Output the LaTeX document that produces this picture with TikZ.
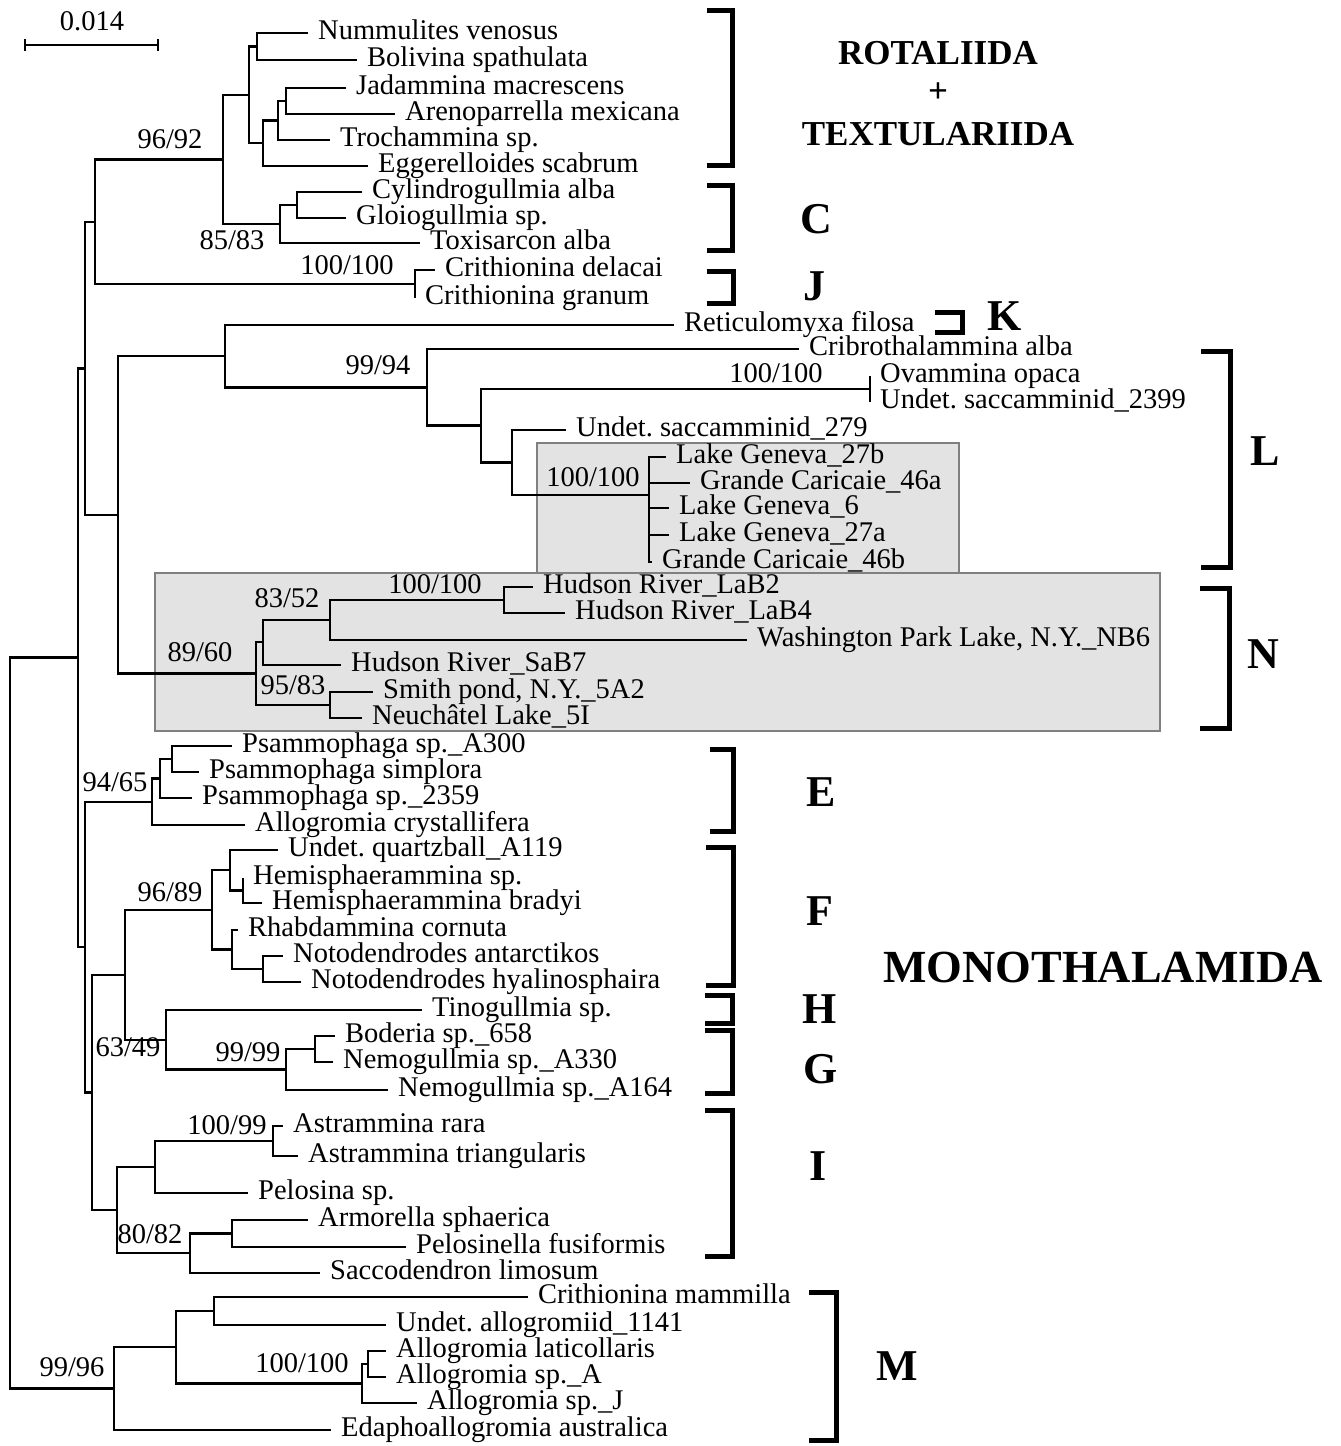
\documentclass[tikz,border=0pt]{standalone}
\usepackage{fontspec}
\setmainfont{Liberation Serif}
\newcommand\leafnode[4]{\coordinate (#1) at (#2,#3); \node[leaf] (#1t) at (#1) {#4};}
\begin{document}
\begin{tikzpicture}[x=1pt,y=-1pt,
  br/.style={line width=2.8pt, line join=miter},
  leaf/.style={anchor=west, inner ysep=0pt, inner xsep=10pt, font=\fontsize{28.5}{30}\selectfont, text height=16pt, text depth=4pt},
  boot/.style={inner sep=0pt, font=\fontsize{28.5}{30}\selectfont, text height=16pt, text depth=3pt},
  clade/.style={inner sep=0pt, font=\fontsize{44}{46}\selectfont\bfseries},
  bracket/.style={line width=5pt, line join=miter},
  shade/.style={fill=black!11, draw=black!50, line width=1.5pt}]
\useasboundingbox (0,0) rectangle (1341,1446);
% shaded boxes
\path[shade] (537,443) rectangle (959,573);
\path[shade] (155,573) rectangle (1160,731);
% scale bar
\node[boot] (scl) at (92,24) {0.014};
\coordinate (sa) at (25,45); \coordinate (sb) at (158,45);
\draw[br] (sa) -- (sb);
\draw[br] ([yshift=-6pt]sa) -- ([yshift=6pt]sa);
\draw[br] ([yshift=-6pt]sb) -- ([yshift=6pt]sb);
% internal nodes
\coordinate (root) at (10,1023);
\coordinate (S1) at (78,657.75);
\coordinate (X2) at (85,368.5);
\coordinate (X1) at (95,222);
\coordinate (RTC) at (223,159.5);
\coordinate (RT) at (249,95);
\coordinate (NB) at (257,46.5);
\coordinate (JATE) at (263,143);
\coordinate (JAT) at (278,120.5);
\coordinate (JA) at (286,101);
\coordinate (C0) at (280,224);
\coordinate (C1) at (297,205);
\coordinate (CR) at (415,284);
\coordinate (LN) at (118,515);
\coordinate (L0) at (225,356);
\coordinate (L1) at (427,387.4);
\coordinate (L2) at (481,425.75);
\coordinate (OV) at (870,389);
\coordinate (L3) at (512,462.5);
\coordinate (LG) at (649,495);
\coordinate (N0) at (256,673.5);
\coordinate (N1) at (263,642);
\coordinate (N3) at (330,620);
\coordinate (N4) at (504,600);
\coordinate (N2) at (330,705);
\coordinate (S2) at (85,947);
\coordinate (E0) at (152,802);
\coordinate (E1) at (160,778.5);
\coordinate (E2) at (172,759);
\coordinate (S3) at (92,1092.5);
\coordinate (FGH) at (125,975);
\coordinate (F0) at (212,910);
\coordinate (F1) at (230,870);
\coordinate (HM) at (243,890.5);
\coordinate (F2) at (232,949.5);
\coordinate (NT) at (263,969);
\coordinate (GH) at (166,1040);
\coordinate (G) at (286,1069.5);
\coordinate (G1) at (315,1049);
\coordinate (I0) at (117,1210);
\coordinate (I1) at (155,1167);
\coordinate (AS) at (273,1141);
\coordinate (I2) at (190,1253);
\coordinate (I3) at (232,1233.5);
\coordinate (M0) at (114,1388.5);
\coordinate (M1) at (176,1347);
\coordinate (M2) at (214,1311);
\coordinate (M3) at (362,1383.5);
\coordinate (M4) at (368,1364);
% leaves
\leafnode{lNum}{308}{33}{Nummulites venosus}
\leafnode{lBol}{357}{60}{Bolivina spathulata}
\leafnode{lJad}{346}{88}{Jadammina macrescens}
\leafnode{lAre}{395}{114}{Arenoparrella mexicana}
\leafnode{lTro}{330}{140}{Trochammina sp.}
\leafnode{lEgg}{368}{166}{Eggerelloides scabrum}
\leafnode{lCyl}{362}{192}{Cylindrogullmia alba}
\leafnode{lGlo}{346}{218}{Gloiogullmia sp.}
\leafnode{lTox}{420}{243}{Toxisarcon alba}
\leafnode{lCdel}{435}{270}{Crithionina delacai}
\leafnode{lCgra}{415}{298}{Crithionina granum}
\leafnode{lRet}{674}{325}{Reticulomyxa filosa}
\leafnode{lCri}{799}{349}{Cribrothalammina alba}
\leafnode{lOva}{870}{376}{Ovammina opaca}
\leafnode{lUa}{870}{402}{Undet.\ saccamminid\_2399}
\leafnode{lUb}{566}{430}{Undet.\ saccamminid\_279}
\leafnode{lGa}{666}{457}{Lake Geneva\_27b}
\leafnode{lGb}{690}{483}{Grande Caricaie\_46a}
\leafnode{lGc}{669}{508}{Lake Geneva\_6}
\leafnode{lGd}{669}{535}{Lake Geneva\_27a}
\leafnode{lGe}{652}{562}{Grande Caricaie\_46b}
\leafnode{lHa}{533}{587}{Hudson River\_LaB2}
\leafnode{lHb}{565}{613}{Hudson River\_LaB4}
\leafnode{lWa}{747}{640}{Washington Park Lake, N.Y.\_NB6}
\leafnode{lHc}{341}{665}{Hudson River\_SaB7}
\leafnode{lSm}{373}{692}{Smith pond, N.Y.\_5A2}
\leafnode{lNe}{362}{718}{Neuchâtel Lake\_5I}
\leafnode{lPa}{232}{746}{Psammophaga sp.\_A300}
\leafnode{lPb}{199}{772}{Psammophaga simplora}
\leafnode{lPc}{192}{798}{Psammophaga sp.\_2359}
\leafnode{lAc}{245}{825}{Allogromia crystallifera}
\leafnode{lQz}{278}{850}{Undet.\ quartzball\_A119}
\leafnode{lHsp}{243}{878}{Hemisphaerammina sp.}
\leafnode{lHbr}{262}{903}{Hemisphaerammina bradyi}
\leafnode{lRh}{238}{930}{Rhabdammina cornuta}
\leafnode{lNa}{283}{956}{Notodendrodes antarctikos}
\leafnode{lNh}{301}{982}{Notodendrodes hyalinosphaira}
\leafnode{lTi}{422}{1010}{Tinogullmia sp.}
\leafnode{lBo}{335}{1036}{Boderia sp.\_658}
\leafnode{lNma}{333}{1062}{Nemogullmia sp.\_A330}
\leafnode{lNmb}{388}{1090}{Nemogullmia sp.\_A164}
\leafnode{lAra}{283}{1126}{Astrammina rara}
\leafnode{lAtr}{298}{1156}{Astrammina triangularis}
\leafnode{lPel}{248}{1193}{Pelosina sp.}
\leafnode{lArm}{308}{1220}{Armorella sphaerica}
\leafnode{lPfu}{406}{1247}{Pelosinella fusiformis}
\leafnode{lSac}{320}{1273}{Saccodendron limosum}
\leafnode{lCm}{528}{1297}{Crithionina mammilla}
\leafnode{lUal}{386}{1325}{Undet.\ allogromiid\_1141}
\leafnode{lAla}{386}{1351}{Allogromia laticollaris}
\leafnode{lAsa}{386}{1377}{Allogromia sp.\_A}
\leafnode{lAsj}{417}{1403}{Allogromia sp.\_J}
\leafnode{lEd}{331}{1430}{Edaphoallogromia australica}
% branches
\draw[br] (root) |- (S1); \draw[br] (root) |- (M0);
\draw[br] (S1) |- (X2); \draw[br] (S1) |- (S2);
\draw[br] (X2) |- (X1); \draw[br] (X2) |- (LN);
\draw[br] (X1) |- (RTC); \draw[br] (X1) |- (CR);
\draw[br] (RTC) |- (RT); \draw[br] (RTC) |- (C0);
\draw[br] (RT) |- (NB); \draw[br] (RT) |- (JATE);
\draw[br] (NB) |- (lNum); \draw[br] (NB) |- (lBol);
\draw[br] (JATE) |- (JAT); \draw[br] (JATE) |- (lEgg);
\draw[br] (JAT) |- (JA); \draw[br] (JAT) |- (lTro);
\draw[br] (JA) |- (lJad); \draw[br] (JA) |- (lAre);
\draw[br] (C0) |- (C1); \draw[br] (C0) |- (lTox);
\draw[br] (C1) |- (lCyl); \draw[br] (C1) |- (lGlo);
\draw[br] (CR) |- (lCdel); \draw[br] (CR) |- (lCgra);
\draw[br] (LN) |- (L0); \draw[br] (LN) |- (N0);
\draw[br] (L0) |- (lRet); \draw[br] (L0) |- (L1);
\draw[br] (L1) |- (lCri); \draw[br] (L1) |- (L2);
\draw[br] (L2) |- (OV); \draw[br] (L2) |- (L3);
\draw[br] (OV) |- (lOva); \draw[br] (OV) |- (lUa);
\draw[br] (L3) |- (lUb); \draw[br] (L3) |- (LG);
\draw[br] (LG) |- (lGa); \draw[br] (LG) |- (lGb); \draw[br] (LG) |- (lGc);
\draw[br] (LG) |- (lGd); \draw[br] (LG) |- (lGe);
\draw[br] (N0) |- (N1); \draw[br] (N0) |- (N2);
\draw[br] (N1) |- (N3); \draw[br] (N1) |- (lHc);
\draw[br] (N3) |- (N4); \draw[br] (N3) |- (lWa);
\draw[br] (N4) |- (lHa); \draw[br] (N4) |- (lHb);
\draw[br] (N2) |- (lSm); \draw[br] (N2) |- (lNe);
\draw[br] (S2) |- (E0); \draw[br] (S2) |- (S3);
\draw[br] (E0) |- (E1); \draw[br] (E0) |- (lAc);
\draw[br] (E1) |- (E2); \draw[br] (E1) |- (lPc);
\draw[br] (E2) |- (lPa); \draw[br] (E2) |- (lPb);
\draw[br] (S3) |- (FGH); \draw[br] (S3) |- (I0);
\draw[br] (FGH) |- (F0); \draw[br] (FGH) |- (GH);
\draw[br] (F0) |- (F1); \draw[br] (F0) |- (F2);
\draw[br] (F1) |- (lQz); \draw[br] (F1) |- (HM);
\draw[br] (HM) |- (lHsp); \draw[br] (HM) |- (lHbr);
\draw[br] (F2) |- (lRh); \draw[br] (F2) |- (NT);
\draw[br] (NT) |- (lNa); \draw[br] (NT) |- (lNh);
\draw[br] (GH) |- (lTi); \draw[br] (GH) |- (G);
\draw[br] (G) |- (G1); \draw[br] (G) |- (lNmb);
\draw[br] (G1) |- (lBo); \draw[br] (G1) |- (lNma);
\draw[br] (I0) |- (I1); \draw[br] (I0) |- (I2);
\draw[br] (I1) |- (AS); \draw[br] (I1) |- (lPel);
\draw[br] (AS) |- (lAra); \draw[br] (AS) |- (lAtr);
\draw[br] (I2) |- (I3); \draw[br] (I2) |- (lSac);
\draw[br] (I3) |- (lArm); \draw[br] (I3) |- (lPfu);
\draw[br] (M0) |- (M1); \draw[br] (M0) |- (lEd);
\draw[br] (M1) |- (M2); \draw[br] (M1) |- (M3);
\draw[br] (M2) |- (lCm); \draw[br] (M2) |- (lUal);
\draw[br] (M3) |- (M4); \draw[br] (M3) |- (lAsj);
\draw[br] (M4) |- (lAla); \draw[br] (M4) |- (lAsa);
% support values
\node[boot] (b1) at (170,142) {96/92};
\node[boot] (b2) at (232,243) {85/83};
\node[boot] (b3) at (347,268) {100/100};
\node[boot] (b4) at (378,368) {99/94};
\node[boot] (b5) at (776,376) {100/100};
\node[boot] (b6) at (593,480) {100/100};
\node[boot] (b7) at (287,601) {83/52};
\node[boot] (b8) at (435,587) {100/100};
\node[boot] (b9) at (200,655) {89/60};
\node[boot] (b10) at (293,688) {95/83};
\node[boot] (b11) at (115,785) {94/65};
\node[boot] (b12) at (170,895) {96/89};
\node[boot] (b13) at (128,1050) {63/49};
\node[boot] (b14) at (248,1055) {99/99};
\node[boot] (b15) at (227,1128) {100/99};
\node[boot] (b16) at (150,1237) {80/82};
\node[boot] (b17) at (72,1370) {99/96};
\node[boot] (b18) at (302,1366) {100/100};
% brackets
\draw[bracket] (707,10) -- (732,10) -- (732,165) -- (707,165);
\draw[bracket] (707,185) -- (732,185) -- (732,250) -- (707,250);
\draw[bracket] (707,271) -- (733,271) -- (733,303) -- (707,303);
\draw[bracket] (935,312) -- (962,312) -- (962,332) -- (935,332);
\draw[bracket] (1201,351) -- (1230,351) -- (1230,567) -- (1201,567);
\draw[bracket] (1200,588) -- (1229,588) -- (1229,728) -- (1200,728);
\draw[bracket] (710,749) -- (733,749) -- (733,831) -- (710,831);
\draw[bracket] (706,847) -- (733,847) -- (733,985) -- (706,985);
\draw[bracket] (705,995) -- (732,995) -- (732,1023) -- (705,1023);
\draw[bracket] (705,1030) -- (732,1030) -- (732,1093) -- (705,1093);
\draw[bracket] (705,1110) -- (732,1110) -- (732,1256) -- (705,1256);
\draw[bracket] (809,1292) -- (836,1292) -- (836,1440) -- (809,1440);
% clade names
\node[inner sep=0pt, font=\fontsize{35}{37}\selectfont\bfseries] (cRot) at (938,53) {ROTALIIDA};
\node[inner sep=0pt, font=\fontsize{35}{37}\selectfont\bfseries] (cPlus) at (938,93) {+};
\node[inner sep=0pt, font=\fontsize{35}{37}\selectfont\bfseries] (cTex) at (938,134) {TEXTULARIIDA};
\node[clade] (cC) at (816,219) {C};
\node[clade] (cJ) at (814,286) {J};
\node[clade] (cK) at (1005,316) {K};
\node[clade] (cL) at (1265,451) {L};
\node[clade] (cN) at (1263,654) {N};
\node[clade] (cE) at (821,792) {E};
\node[clade] (cF) at (820,911) {F};
\node[clade] (cH) at (820,1009) {H};
\node[clade] (cG) at (821,1069) {G};
\node[clade] (cI) at (818,1166) {I};
\node[clade] (cM) at (897,1366) {M};
\node[inner sep=0pt, font=\fontsize{46}{48}\selectfont\bfseries] (cMono) at (1103,967) {MONOTHALAMIDA};
\end{tikzpicture}
\end{document}
